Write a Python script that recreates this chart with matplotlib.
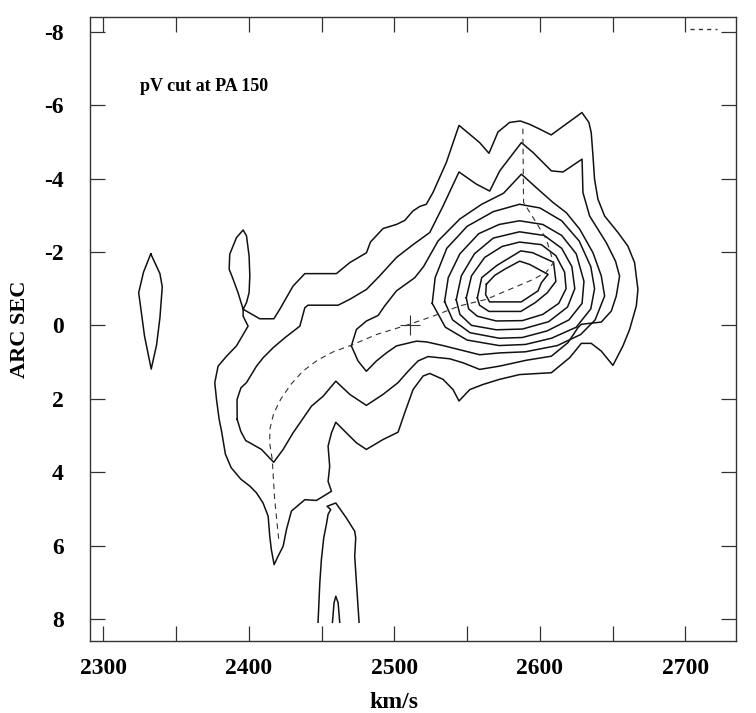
import matplotlib
matplotlib.use("Agg")
import matplotlib.pyplot as plt
from matplotlib.ticker import MultipleLocator

# contour outlines: velocity (km/s) and offset (arcsec)
# outermost level, including the thin spike on its left end
c1_v = [2396.0, 2407.4, 2417.1, 2421.2, 2430.3, 2438.4, 2460.1, 2469.3, 2480.8, 2483.5,
        2492.2, 2501.4, 2507.1, 2512.8, 2517.4, 2521.9, 2526.5, 2535.7, 2544.4, 2551.7,
        2558.6, 2565.0, 2567.7, 2571.2, 2579.2, 2586.5, 2592.9, 2599.8, 2607.8, 2614.7,
        2622.7, 2628.9, 2633.7, 2635.3, 2636.5, 2637.6, 2639.9, 2644.5, 2653.7, 2660.5,
        2665.1, 2667.4, 2666.3, 2661.7, 2657.1, 2650.2, 2642.2, 2635.3, 2628.5, 2620.5,
        2607.9, 2586.1, 2572.3, 2560.9, 2551.8, 2544.4, 2540.3, 2533.4, 2524.3, 2519.7,
        2512.8, 2507.1, 2502.5, 2492.2, 2480.7, 2473.9, 2467.0, 2459.7, 2456.7, 2454.4,
        2455.5, 2454.4, 2456.7, 2446.4, 2438.4, 2429.2, 2425.8, 2423.5, 2420.0, 2417.3,
        2415.4, 2414.3, 2413.2, 2409.7, 2405.1, 2400.6, 2394.4, 2387.8, 2383.8, 2381.2,
        2379.5, 2377.7, 2376.5, 2378.8, 2384.6, 2391.4, 2396.0, 2399.4, 2396.0, 2396.0,
        2392.5, 2388.7, 2386.4, 2386.8, 2391.4, 2396.0, 2398.3, 2400.1, 2400.6, 2400.1,
        2398.3, 2396.0]
c1_p = [-0.44, -0.18, -0.18, -0.44, -1.07, -1.41, -1.41, -1.71, -1.98, -2.27,
        -2.64, -2.75, -2.86, -3.12, -3.24, -3.30, -3.62, -4.44, -5.45, -5.21,
        -4.98, -4.69, -4.94, -5.27, -5.53, -5.57, -5.48, -5.35, -5.19, -5.39,
        -5.62, -5.80, -5.53, -5.25, -4.62, -3.98, -3.44, -2.98, -2.53, -2.16,
        -1.71, -0.98, -0.53, 0.11, 0.56, 1.09, 0.70, 0.49, 0.49, 0.88,
        1.29, 1.34, 1.47, 1.61, 1.75, 2.06, 1.75, 1.47, 1.31, 1.38,
        1.75, 2.38, 2.91, 3.11, 3.38, 3.20, 2.93, 2.64, 2.93, 3.29,
        3.84, 4.25, 4.52, 4.77, 4.75, 5.06, 5.56, 6.02, 6.29, 6.52,
        6.11, 5.75, 5.20, 4.84, 4.56, 4.38, 4.19, 3.88, 3.51, 2.89,
        2.56, 2.02, 1.56, 1.11, 0.84, 0.56, 0.25, 0.02, -0.25, -0.44,
        -0.89, -1.30, -1.53, -1.94, -2.39, -2.60, -2.44, -1.89, -1.35, -0.89,
        -0.62, -0.44]

# second level
c2_v = [2391.9, 2391.8, 2394.5, 2398.3, 2405.2, 2409.8, 2416.6, 2424.6, 2435.0, 2438.4,
        2440.6, 2461.3, 2469.3, 2480.8, 2489.9, 2501.4, 2512.8, 2524.3, 2533.4, 2544.4,
        2556.3, 2565.5, 2572.4, 2587.3, 2595.3, 2607.9, 2615.9, 2629.0, 2629.6, 2634.2,
        2645.7, 2652.0, 2654.8, 2652.5, 2649.1, 2642.2, 2628.5, 2626.2, 2619.3, 2607.9,
        2590.7, 2572.3, 2558.6, 2547.2, 2538.0, 2523.1, 2516.2, 2509.4, 2502.5, 2492.2,
        2480.7, 2469.3, 2459.7, 2451.0, 2443.0, 2430.3, 2423.5, 2417.0, 2408.6, 2400.6,
        2397.8, 2394.4, 2391.9]
c2_p = [2.56, 2.02, 1.70, 1.56, 1.11, 0.88, 0.61, 0.34, 0.02, -0.48,
        -0.55, -0.55, -0.71, -0.98, -1.35, -1.85, -2.20, -2.53, -3.25, -4.18,
        -3.85, -3.66, -4.21, -4.98, -4.71, -4.21, -4.18, -4.53, -3.62, -2.98,
        -2.25, -1.75, -1.34, -0.80, -0.39, -0.09, -0.03, 0.06, 0.47, 0.84,
        0.95, 1.11, 1.20, 1.02, 0.91, 0.85, 0.97, 1.25, 1.56, 1.88,
        2.18, 1.88, 1.52, 1.93, 2.20, 2.93, 3.38, 3.73, 3.38, 3.20,
        3.14, 2.89, 2.56]

# third level (the one holding the centre cross)
c3_v = [2470.4, 2473.9, 2480.8, 2488.8, 2493.3, 2501.4, 2514.0, 2520.0, 2530.0, 2545.0,
        2560.0, 2575.0, 2587.3, 2597.6, 2609.0, 2618.2, 2627.4, 2636.5, 2642.2, 2644.5,
        2638.0, 2628.0, 2612.0, 2590.0, 2572.4, 2558.6, 2533.4, 2522.0, 2515.1, 2501.4,
        2494.5, 2487.6, 2480.7, 2475.0, 2470.4]
c3_p = [0.56, 0.11, -0.12, -0.27, -0.53, -0.94, -1.30, -1.60, -2.30, -2.90,
        -3.30, -3.60, -4.12, -3.75, -3.35, -3.07, -2.62, -1.98, -1.35, -0.80,
        -0.15, 0.25, 0.55, 0.72, 0.75, 0.80, 0.55, 0.45, 0.43, 0.56,
        0.75, 0.97, 1.25, 0.97, 0.56]

# closed rings round the peak, outer to inner
c4_v = [2526.0, 2528.0, 2536.0, 2550.0, 2568.0, 2586.0, 2600.0, 2615.0, 2627.0, 2635.0,
        2637.6, 2635.0, 2625.0, 2608.0, 2590.0, 2572.0, 2550.0, 2535.0, 2526.0]
c4_p = [-0.60, -1.30, -2.10, -2.70, -3.10, -3.30, -3.20, -2.85, -2.30, -1.60,
        -1.00, -0.45, 0.05, 0.35, 0.52, 0.55, 0.40, 0.05, -0.60]
c5_v = [2534.5, 2537.0, 2545.0, 2558.0, 2572.0, 2586.0, 2602.0, 2615.0, 2625.0, 2630.3,
        2629.0, 2620.0, 2605.0, 2588.0, 2572.0, 2552.0, 2540.0, 2534.5]
c5_p = [-0.65, -1.30, -1.95, -2.50, -2.75, -2.85, -2.75, -2.45, -1.95, -1.20,
        -0.60, -0.15, 0.15, 0.33, 0.35, 0.20, -0.15, -0.65]
c6_v = [2542.5, 2546.0, 2555.0, 2568.0, 2586.0, 2603.0, 2615.0, 2622.0, 2624.0, 2619.0,
        2606.0, 2588.0, 2570.0, 2553.0, 2545.0, 2542.5]
c6_p = [-0.70, -1.35, -1.95, -2.38, -2.55, -2.45, -2.10, -1.60, -1.00, -0.50,
        -0.10, 0.10, 0.12, 0.00, -0.30, -0.70]
c7_v = [2549.4, 2553.0, 2562.0, 2574.0, 2586.0, 2601.0, 2611.0, 2617.0, 2618.0, 2613.0,
        2602.0, 2588.0, 2570.0, 2557.0, 2551.0, 2549.4]
c7_p = [-0.75, -1.35, -1.85, -2.15, -2.27, -2.20, -1.90, -1.45, -1.00, -0.60,
        -0.30, -0.13, -0.12, -0.25, -0.45, -0.75]
c8_v = [2557.0, 2560.0, 2570.3, 2586.9, 2595.0, 2609.4, 2611.0, 2605.1, 2596.8, 2586.9,
        2565.0, 2558.5, 2557.0]
c8_p = [-0.75, -1.30, -1.63, -2.03, -1.98, -1.72, -1.20, -0.89, -0.62, -0.38,
        -0.38, -0.55, -0.75]
c9_v = [2563.2, 2568.9, 2575.8, 2586.1, 2593.0, 2605.6, 2601.0, 2598.7, 2587.2, 2565.4,
        2562.7, 2563.2]
c9_p = [-1.12, -1.36, -1.53, -1.75, -1.66, -1.39, -1.16, -0.94, -0.64, -0.64,
        -0.84, -1.12]

# small isolated pieces
blob_v = [2332.5, 2338.8, 2340.4, 2338.8, 2336.5, 2332.8, 2328.2, 2324.2, 2327.5, 2332.5]
blob_p = [-1.95, -1.41, -1.05, -0.21, 0.53, 1.19, 0.29, -0.89, -1.45, -1.95]
tongue_v = [2447.5, 2448.7, 2449.8, 2451.4, 2453.2, 2454.4, 2456.2, 2453.7, 2459.7, 2467.0,
            2472.7, 2473.4, 2472.7, 2473.9, 2475.7]
tongue_p = [8.09, 7.02, 6.38, 5.79, 5.43, 5.15, 5.02, 4.93, 4.84, 5.25,
            5.61, 5.79, 6.29, 7.02, 8.09]
tip_v = [2457.4, 2458.5, 2459.7, 2461.3, 2462.4]
tip_p = [8.09, 7.56, 7.38, 7.56, 8.09]

# dashed rotation curve
rc_v = [2588.3, 2588.8, 2597.5, 2604.4, 2609.4, 2604.4, 2595.3, 2579.2, 2563.2, 2544.8,
        2526.5, 2510.4, 2487.6, 2470.4, 2458.0, 2447.0, 2437.0, 2429.0, 2422.0, 2417.0,
        2414.5, 2414.2, 2416.0, 2417.7, 2420.7]
rc_p = [-5.36, -3.35, -2.80, -2.35, -1.71, -1.45, -1.25, -0.98, -0.71, -0.53,
        -0.25, -0.03, 0.25, 0.54, 0.72, 0.95, 1.25, 1.60, 2.00, 2.40,
        2.80, 3.20, 3.65, 4.75, 5.93]
corner_v = [2703, 2722]
corner_p = [-8.07, -8.07]

centre_v = 2510.5
centre_p = 0.0

plt.rcParams['font.family'] = ['Liberation Serif', 'DejaVu Serif']
plt.rcParams['font.weight'] = 'bold'
plt.rcParams['axes.unicode_minus'] = False

fig = plt.figure(figsize=(7.56, 7.13), dpi=100)
ax = fig.add_axes([0.119, 0.101, 0.8545, 0.875])

solid = dict(color='#111111', lw=1.1)
for v, p in [(c1_v, c1_p), (c2_v, c2_p), (c3_v, c3_p), (c4_v, c4_p), (c5_v, c5_p),
             (c6_v, c6_p), (c7_v, c7_p), (c8_v, c8_p), (c9_v, c9_p),
             (blob_v, blob_p), (tongue_v, tongue_p), (tip_v, tip_p)]:
    ax.plot(v, p, **solid)

ax.plot(rc_v, rc_p, color='#333333', lw=0.8, ls=(0, (5, 4)))
ax.plot(corner_v, corner_p, color='#333333', lw=1.0, ls=(0, (3, 3)))
ax.plot([centre_v], [centre_p], marker='+', ms=15, mew=0.8, color='#333333')

ax.text(2325, -6.5, 'pV cut at PA 150', fontsize=13, fontweight='bold', va='center')

ax.set_xlim(2290.7, 2734.8)
ax.set_ylim(8.6, -8.4)

ax.xaxis.set_major_locator(MultipleLocator(100))
ax.xaxis.set_minor_locator(MultipleLocator(50))
ax.yaxis.set_major_locator(MultipleLocator(2))
ax.tick_params(which='both', direction='in', top=True, right=True, length=11, width=0.9,
               color='#333333')
ax.tick_params(axis='x', which='major', labelsize=17, pad=12)
ax.tick_params(axis='y', which='major', labelsize=17, pad=19)
for s in ax.spines.values():
    s.set_linewidth(1.0)
    s.set_color('#333333')

ax.set_xlabel('km/s', fontsize=17, fontweight='bold')
ax.xaxis.set_label_coords(0.471, -0.082)
ax.set_ylabel('ARC SEC', fontsize=16, fontweight='bold')
ax.yaxis.set_label_coords(-0.093, 0.5)

fig.savefig('out.png', dpi=100)
